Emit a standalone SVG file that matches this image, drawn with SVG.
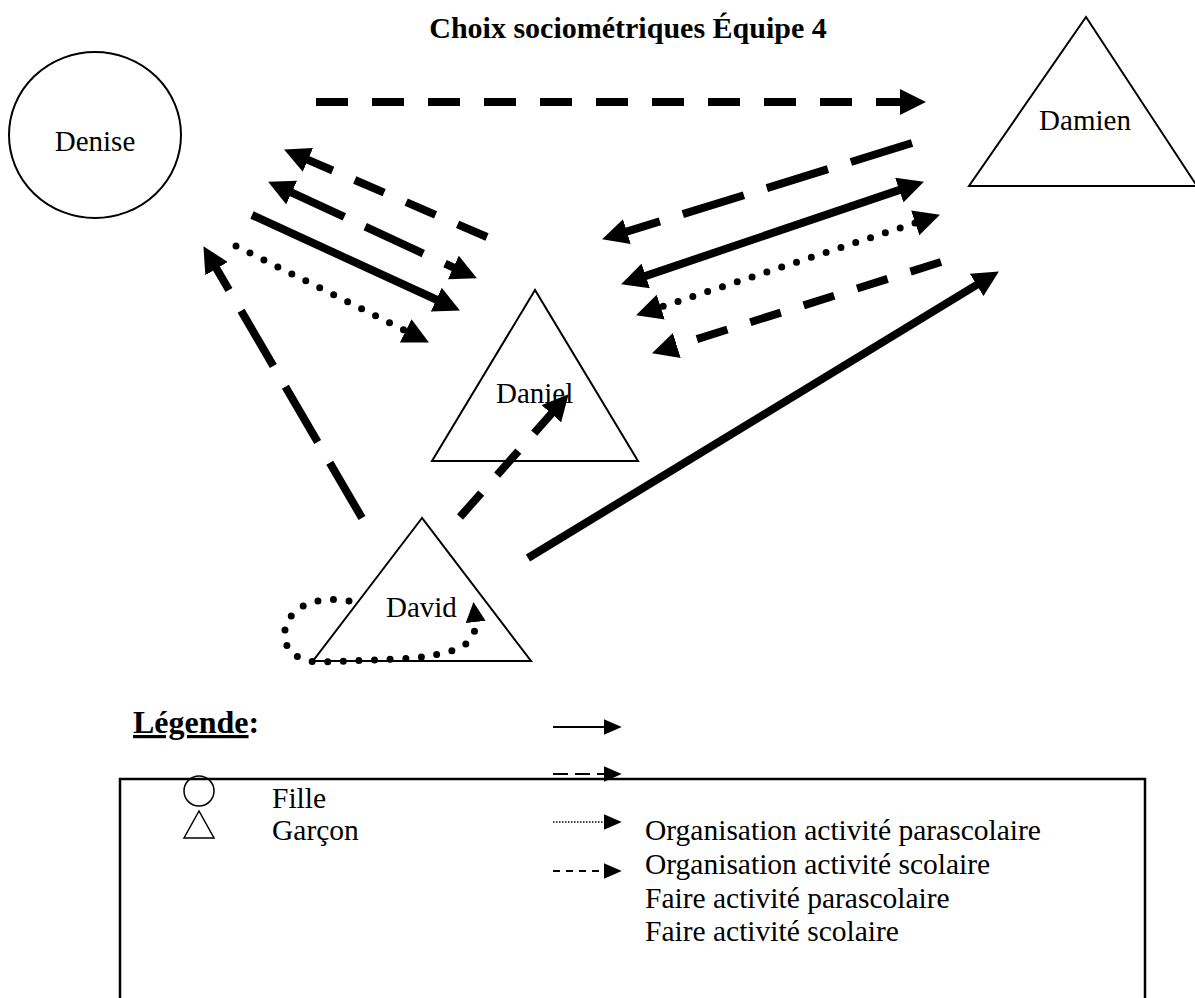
<svg xmlns="http://www.w3.org/2000/svg" width="1195" height="998" viewBox="0 0 1195 998">
<style>
text{font-family:"Liberation Serif","Times New Roman",serif;fill:#000}
.lbl{font-size:29px}
.lg{font-size:29.5px}
.ttl{font-size:30px;font-weight:bold}
.node{fill:#fff;stroke:#000;stroke-width:2}
.a{fill:none;stroke:#000;stroke-width:8}
.dash{stroke-dasharray:32 24}
.ldash{stroke-dasharray:64 24}
.dot{stroke-width:7;stroke-linecap:round;stroke-dasharray:0 15.6}
.leg{fill:none;stroke:#000;stroke-width:2}
</style>
<defs>
<marker id="ah" markerUnits="userSpaceOnUse" markerWidth="26" markerHeight="26" viewBox="0 0 24 24" refX="12" refY="12" orient="auto-start-reverse">
<path d="M0,0 L24,12 L0,24 Z" fill="#000"/>
</marker>
<marker id="ahs" markerUnits="userSpaceOnUse" markerWidth="20" markerHeight="20" viewBox="0 0 20 20" refX="6" refY="10" orient="auto">
<path d="M0,0 L20,10 L0,20 Z" fill="#000"/>
</marker>
<marker id="lh" markerUnits="userSpaceOnUse" markerWidth="18" markerHeight="16" viewBox="0 0 16 14" refX="2" refY="7" orient="auto">
<path d="M0,0 L16,7 L0,14 Z" fill="#000"/>
</marker>
</defs>
<rect width="1195" height="998" fill="#fff"/>
<text class="ttl" x="628" y="38" text-anchor="middle">Choix sociométriques Équipe 4</text>

<g id="denise">
<ellipse class="node" cx="95" cy="135" rx="86" ry="83"/>
<text class="lbl" x="95" y="151" text-anchor="middle">Denise</text>
</g>
<g id="damien">
<polygon class="node" points="1086,17 969,186 1197,186"/>
<text class="lbl" x="1085" y="130" text-anchor="middle">Damien</text>
</g>
<g id="daniel">
<polygon class="node" points="535,290 432,461 638,461"/>
<text class="lbl" x="496" y="403">Daniel</text>
</g>
<g id="david">
<polygon class="node" points="422,518 313,661 531,661"/>
<text class="lbl" x="386" y="617">David</text>
</g>

<g id="connectors">
<line class="a dash" x1="316" y1="102" x2="913" y2="102" marker-end="url(#ah)"/>
<line class="a dash" x1="487" y1="237" x2="296" y2="154.7" marker-end="url(#ah)"/>
<line class="a" style="stroke-dasharray:71 23 64 24 40" x1="279.9" y1="187.1" x2="465.1" y2="272.9" marker-start="url(#ah)" marker-end="url(#ah)"/>
<line class="a" x1="252" y1="215" x2="448.1" y2="305" marker-end="url(#ah)"/>
<line class="a dot" x1="236" y1="246" x2="417.3" y2="336.6" marker-end="url(#ah)"/>
<line class="a ldash" x1="362" y1="518" x2="210" y2="257.4" marker-end="url(#ah)"/>
<line class="a dash" x1="460" y1="517" x2="560" y2="404" marker-end="url(#ah)"/>
<line class="a" x1="528" y1="558" x2="987.8" y2="278.2" marker-end="url(#ah)"/>
<line class="a ldash" x1="912" y1="143" x2="614.5" y2="235.4" marker-end="url(#ah)"/>
<line class="a" x1="633.4" y1="280.1" x2="911.6" y2="185.9" marker-start="url(#ah)" marker-end="url(#ah)"/>
<line class="a dot" x1="648.4" y1="311.2" x2="927.6" y2="218.8" marker-start="url(#ah)" marker-end="url(#ah)"/>
<line class="a dash" x1="941" y1="262" x2="664.4" y2="349.4" marker-end="url(#ah)"/>
<path class="a dot" d="M349,601 C320,596 290,604 285,630 C282,652 300,662 320,662 L400,659 C440,656 462,650 470,640 C476,632 476,625 475,616" marker-end="url(#ahs)"/>
</g>

<g id="legend">
<text x="133" y="733" style="font-size:32px;font-weight:bold"><tspan style="text-decoration:underline">Légende</tspan>:</text>
<line class="leg" x1="553" y1="727" x2="606" y2="727" marker-end="url(#lh)"/>
<line class="leg" x1="553" y1="774" x2="606" y2="774" style="stroke-dasharray:15 7" marker-end="url(#lh)"/>
<path d="M120,998 L120,779 L1145,779 L1145,998" fill="none" stroke="#000" stroke-width="2.5"/>
<ellipse cx="199" cy="791" rx="15" ry="15" fill="none" stroke="#000" stroke-width="1.5"/>
<polygon points="199,811 184,838 214,838" fill="none" stroke="#000" stroke-width="1.5"/>
<text class="lg" x="272" y="808">Fille</text>
<text class="lg" x="272" y="840">Garçon</text>
<line class="leg" x1="553" y1="822" x2="606" y2="822" style="stroke-width:1.5;stroke-dasharray:1.5 1.5" marker-end="url(#lh)"/>
<line class="leg" x1="553" y1="871" x2="606" y2="871" style="stroke-dasharray:7 6" marker-end="url(#lh)"/>
<text class="lg" x="645" y="840">Organisation activité parascolaire</text>
<text class="lg" x="645" y="874">Organisation activité scolaire</text>
<text class="lg" x="645" y="908">Faire activité parascolaire</text>
<text class="lg" x="645" y="941">Faire activité scolaire</text>
</g>
</svg>
